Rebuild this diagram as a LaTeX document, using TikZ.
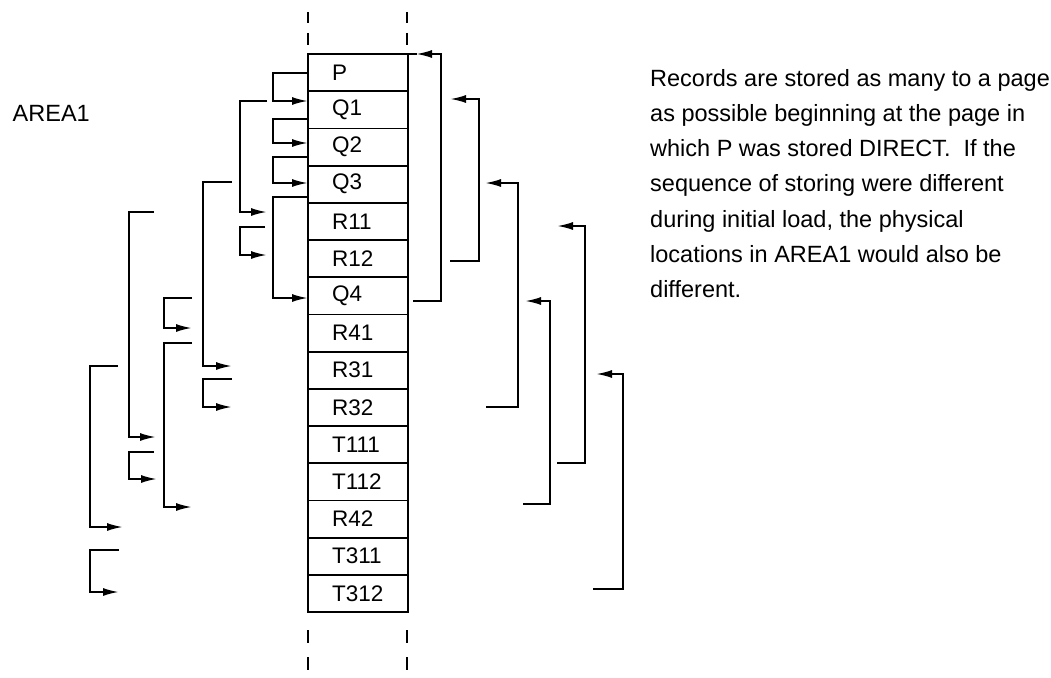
\documentclass[tikz,border=0pt]{standalone}
\usepackage{fontspec}
\setmainfont{Liberation Sans}
\usetikzlibrary{arrows.meta}
\begin{document}
\begin{tikzpicture}[x=1pt,y=-1pt,
  rec/.style={draw, line width=1.8pt, minimum width=100pt, minimum height=37.2pt,
    text width=52pt, inner xsep=24pt, inner ysep=0pt, align=left, outer sep=0pt,
    font=\fontsize{22.5}{22.5}\selectfont},
  link/.style={line width=2pt},
  arr/.style={link, -{Latex[length=16pt,width=8pt]}},
  guide/.style={line width=2pt},
  txt/.style={inner sep=0pt, font=\fontsize{23.5}{35.3}\selectfont}]
\useasboundingbox (0,0) rectangle (1051,677);

% record column
\foreach \n [count=\i from 0] in {P,Q1,Q2,Q3,R11,R12,Q4,R41,R31,R32,T111,T112,R42,T311,T312}
  \node[rec] (\n) at (358,{54+37.2*\i+18.6}) {\n};

% page boundary guides
\draw[guide] ([yshift=42pt]P.north west) -- ([yshift=31pt]P.north west);
\draw[guide] ([yshift=21pt]P.north west) -- ([yshift=9pt]P.north west);
\draw[guide] ([yshift=42pt,xshift=-1pt]P.north east) -- ([yshift=31pt,xshift=-1pt]P.north east);
\draw[guide] ([yshift=21pt,xshift=-1pt]P.north east) -- ([yshift=9pt,xshift=-1pt]P.north east);
\draw[guide] ([yshift=-18pt]T312.south west) -- ([yshift=-31pt]T312.south west);
\draw[guide] ([yshift=-45pt]T312.south west) -- ([yshift=-58pt]T312.south west);
\draw[guide] ([yshift=-18pt,xshift=-1pt]T312.south east) -- ([yshift=-31pt,xshift=-1pt]T312.south east);
\draw[guide] ([yshift=-45pt,xshift=-1pt]T312.south east) -- ([yshift=-58pt,xshift=-1pt]T312.south east);

% left-side pointers
\draw[arr] (P.west) -- ++(-35,0) |- ([yshift=8.8pt]Q1.west);
\draw[arr] ([yshift=-9.2pt]Q1.west) -- ++(-35,0) |- ([yshift=4pt]Q2.west);
\draw[arr] ([yshift=-10pt]Q2.west) -- ++(-35,0) |- ([yshift=1.2pt]Q3.west);
\draw[arr] ([yshift=-12.8pt]Q3.west) -- ++(-35,0) |- ([yshift=-2.2pt]Q4.west);
\draw[arr] ([xshift=-41pt,yshift=8.8pt]Q1.west) -- ++(-27,0) |- ([xshift=-41pt,yshift=9.4pt]R11.west);
\draw[arr] ([xshift=-43pt,yshift=-5.6pt]R11.west) -- ++(-25,0) |- ([xshift=-41pt,yshift=3.6pt]R12.west);
\draw[arr] ([xshift=-76pt,yshift=2.2pt]Q3.west) -- ++(-29,0) |- ([xshift=-76pt,yshift=4.2pt]R31.west);
\draw[arr] ([xshift=-76pt,yshift=-8.8pt]R31.west) -- ++(-29,0) |- ([xshift=-76pt,yshift=0.4pt]R32.west);
\draw[arr] ([xshift=-154pt,yshift=9.4pt]R11.west) -- ++(-25,0) |- ([xshift=-152pt,yshift=7.6pt]T111.west);
\draw[arr] ([xshift=-116pt,yshift=-2.2pt]Q4.west) -- ++(-28,0) |- ([xshift=-116pt,yshift=5pt]R41.west);
\draw[arr] ([xshift=-116pt,yshift=-10pt]R41.west) -- ++(-28,0) |- ([xshift=-116pt,yshift=12pt]R42.west);
\draw[arr] ([xshift=-190pt,yshift=4.2pt]R31.west) -- ++(-28,0) |- ([xshift=-185pt,yshift=29.2pt]T311.west);
\draw[arr] ([xshift=-154pt,yshift=-7.4pt]T111.west) -- ++(-25,0) |- ([xshift=-151pt,yshift=2.8pt]T112.west);
\draw[arr] ([xshift=-189pt,yshift=6.2pt]T311.west) -- ++(-29,0) |- ([xshift=-189pt,yshift=1.4pt]T312.west);

% right-side pointers
\draw[arr] ([xshift=5pt,yshift=-5.2pt]Q4.east) -- ++(28,0) |- ([xshift=8pt]P.north east);
\draw[arr] ([xshift=42pt,yshift=-2.4pt]R12.east) -- ++(29,0) |- ([xshift=42pt,yshift=10.8pt]Q1.east);
\draw[arr] ([xshift=78pt,yshift=0.4pt]R32.east) -- ++(32,0) |- ([xshift=77pt,yshift=1.2pt]Q3.east);
\draw[arr] ([xshift=149pt,yshift=18.8pt]T112.east) -- ++(28,0) |- ([xshift=149pt,yshift=-4.6pt]R11.east);
\draw[arr] ([xshift=115pt,yshift=15pt]R42.east) -- ++(27,0) |- ([xshift=117pt,yshift=-5.2pt]Q4.east);
\draw[arr] ([xshift=185pt,yshift=4.4pt]T312.east) -- ++(30,0) |- ([xshift=188pt,yshift=-3.8pt]R31.east);
\draw[link] (P.north east) -- ([xshift=9pt]P.north east);

% texts
\node[txt, anchor=base east] (area) at (90,121) {AREA1};
\node[txt, anchor=base west, align=left] (note) at (650,297.8)
  {Records are stored as many to a page\\
   as possible beginning at the page in\\
   which P was stored DIRECT.\ \ If the\\
   sequence of storing were different\\
   during initial load, the physical\\
   locations in AREA1 would also be\\
   different.};
\end{tikzpicture}
\end{document}
